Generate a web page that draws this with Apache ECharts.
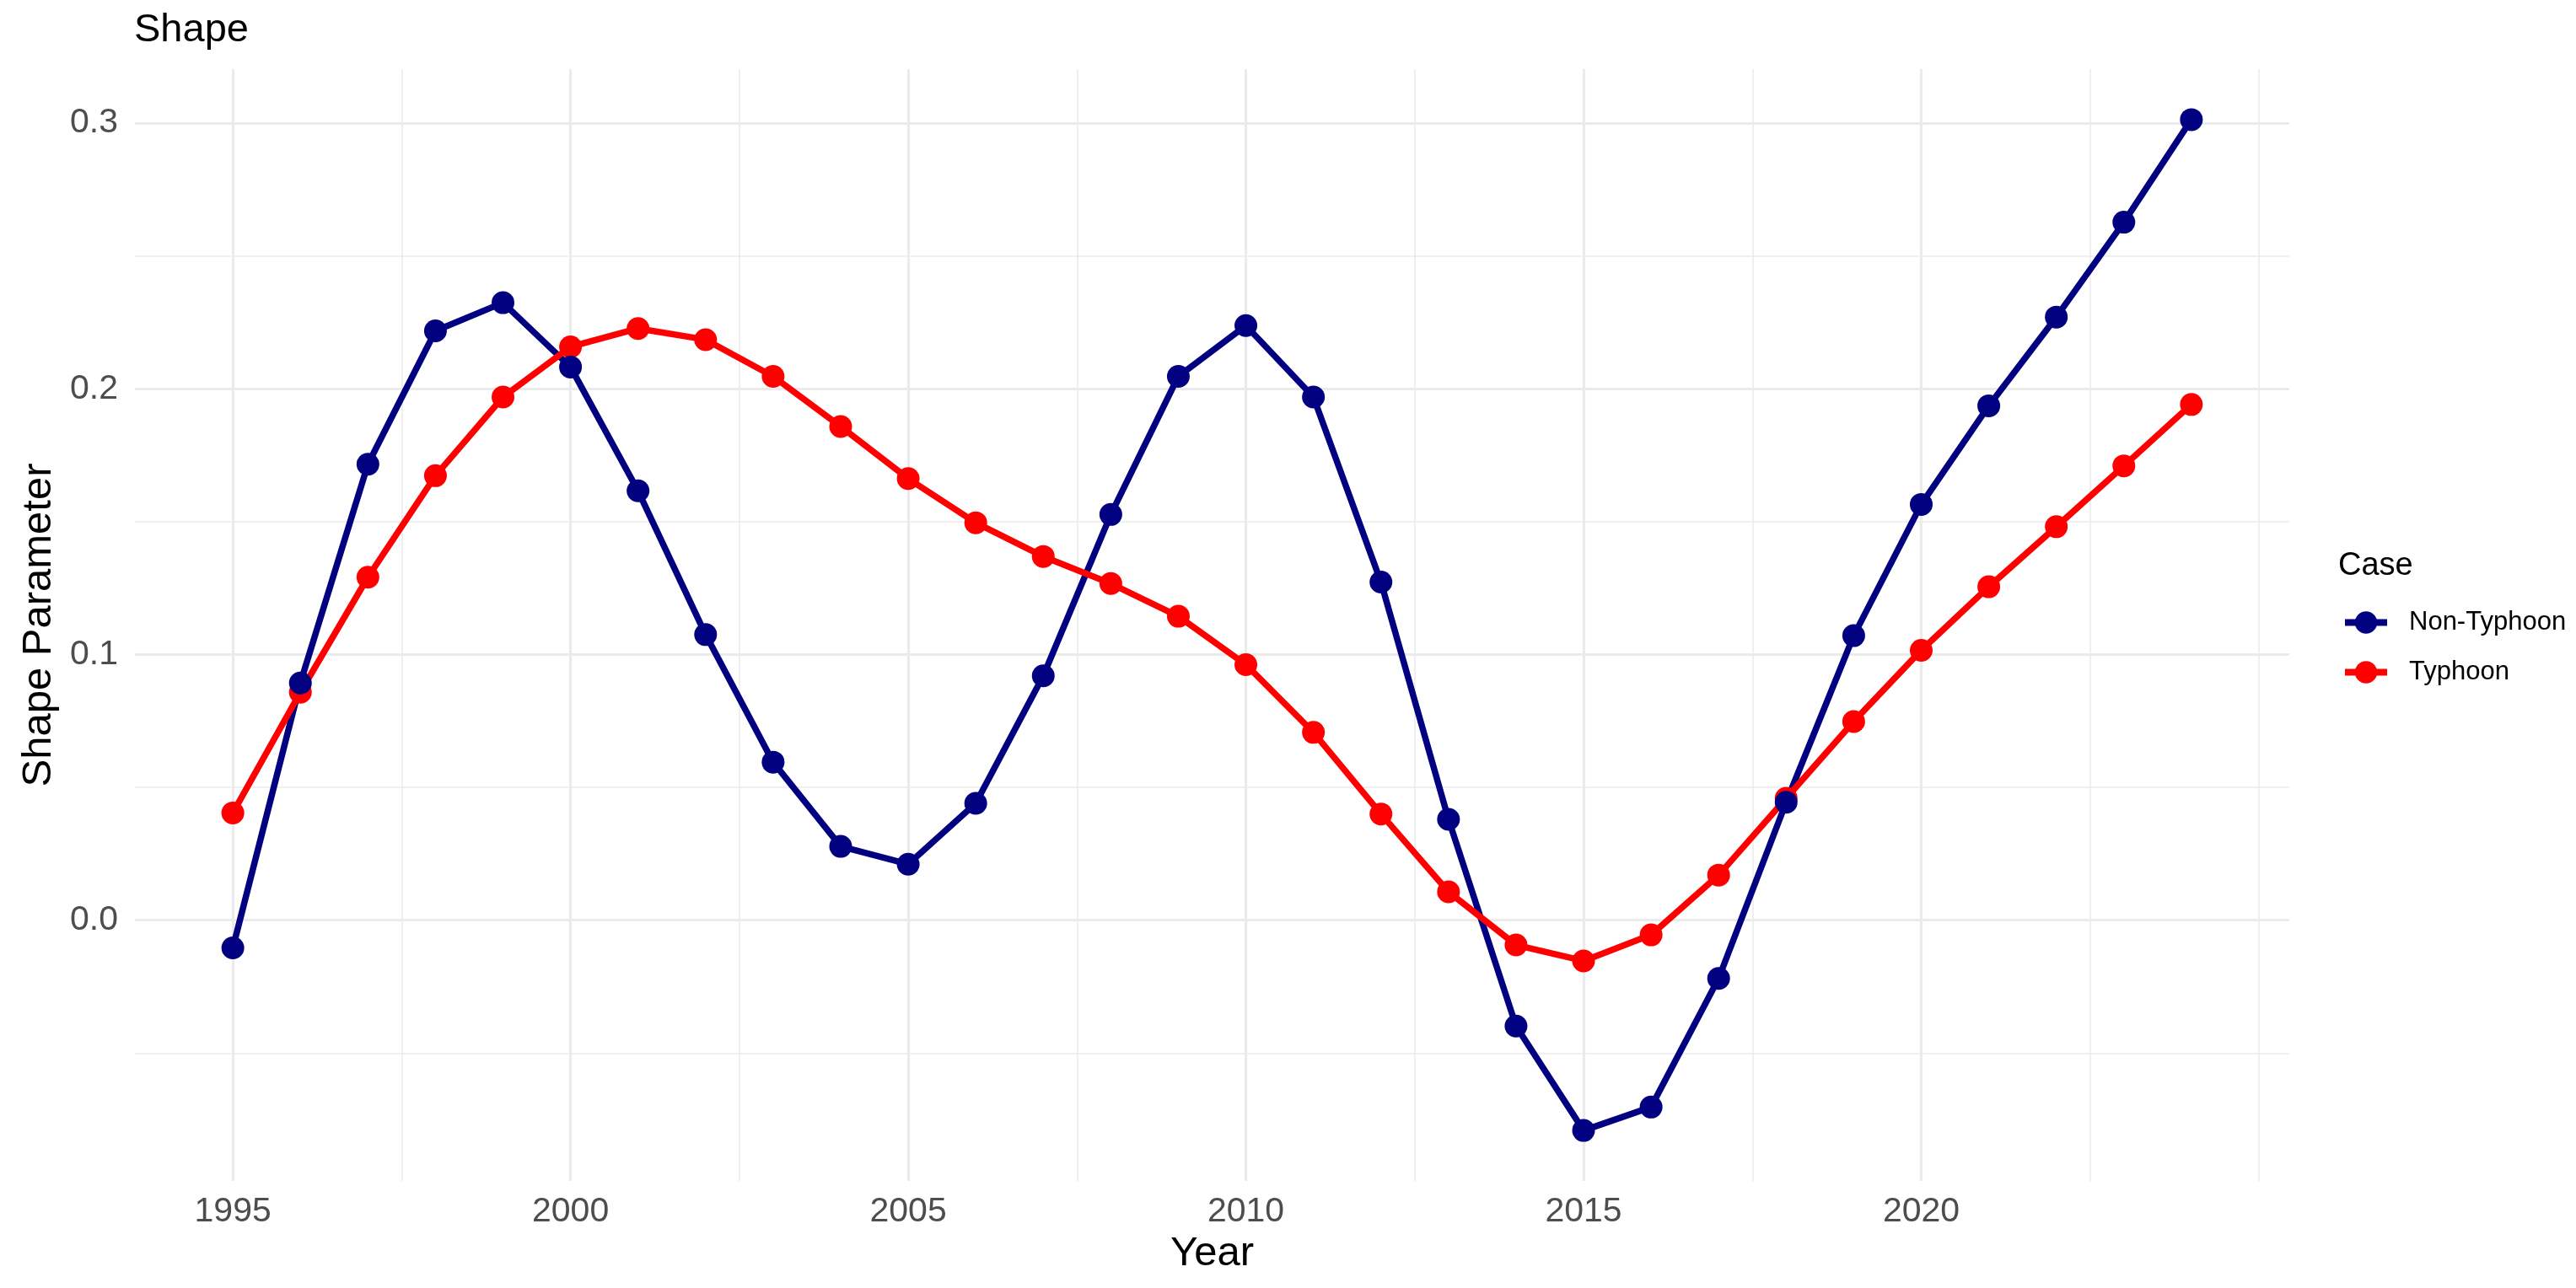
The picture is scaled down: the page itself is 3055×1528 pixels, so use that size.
<!DOCTYPE html>
<html>
<head>
<meta charset="utf-8">
<script src="https://cdn.jsdelivr.net/npm/echarts@6/dist/echarts.min.js"></script>
<style>
html,body{margin:0;padding:0;background:#fff;}
#chart{width:3055px;height:1528px;}
</style>
</head>
<body>
<div id="chart"></div>
<script>
const years = [1995,1996,1997,1998,1999,2000,2001,2002,2003,2004,2005,2006,2007,2008,2009,2010,2011,2012,2013,2014,2015,2016,2017,2018,2019,2020,2021,2022,2023,2024];
const nonTyphoon = [-0.0104,0.0893,0.1716,0.2218,0.2324,0.2082,0.1616,0.1075,0.0595,0.0278,0.0211,0.0440,0.0920,0.1527,0.2047,0.2238,0.1969,0.1273,0.0380,-0.0398,-0.0791,-0.0703,-0.0219,0.0444,0.1071,0.1565,0.1936,0.2270,0.2627,0.3013];
const typhoon = [0.0404,0.0858,0.1291,0.1673,0.1969,0.2158,0.2227,0.2185,0.2047,0.1858,0.1662,0.1496,0.1369,0.1267,0.1144,0.0962,0.0707,0.0400,0.0107,-0.0093,-0.0153,-0.0055,0.0170,0.0459,0.0748,0.1016,0.1255,0.1481,0.1710,0.1941];
const xMajor = [1995,2000,2005,2010,2015,2020];
const xMinor = [1997.5,2002.5,2007.5,2012.5,2017.5,2022.5,2025];
const yMajor = [0,0.1,0.2,0.3];
const yMinor = [-0.05,0.05,0.15,0.25];
const caseNames = ['Non-Typhoon','Typhoon'];
const caseColors = ['#000080','#FF0000'];

const FONT = "'Liberation Sans', Arial, sans-serif";
const xMin = 1993.55, xMax = 2025.45, yMin = -0.0981, yMax = 0.3203;
const pairs = (vals) => years.map((y,i)=>[y, vals[i]]);
const seriesVals = [nonTyphoon, typhoon];

const chart = echarts.init(document.getElementById('chart'), null, {renderer:'canvas'});
const gridLine = (w)=>({show:true, lineStyle:{color:'#EBEBEB', width:w}});
const option = {
  animation:false,
  backgroundColor:'#ffffff',
  title:[
    {text:'Shape', left:159, top:13, padding:0, textStyle:{fontFamily:FONT, fontSize:47, fontWeight:'normal', color:'#000'}},
    {text:'Case', left:2773, top:653, padding:0, textStyle:{fontFamily:FONT, fontSize:38, fontWeight:'normal', color:'#000'}}
  ],
  grid:{left:160, right:340, top:82, bottom:127, containLabel:false},
  legend:{
    orient:'vertical', left:2777, top:723, padding:0,
    itemWidth:50, itemHeight:33, itemGap:28,
    data:caseNames,
    lineStyle:{width:8},
    textStyle:{fontFamily:FONT, fontSize:31, color:'#000', padding:[0,0,0,21]}
  },
  xAxis:[
    {type:'value', min:xMin, max:xMax, position:'bottom',
     name:'Year', nameLocation:'middle', nameGap:62,
     nameTextStyle:{fontFamily:FONT, fontSize:49, color:'#000'},
     axisLine:{show:false}, axisTick:{show:false, customValues:xMajor},
     axisLabel:{customValues:xMajor, fontFamily:FONT, fontSize:41, color:'#4D4D4D', margin:16, formatter:(v)=>String(v)},
     splitLine:gridLine(3.2)},
    {type:'value', min:xMin, max:xMax, position:'top',
     axisLine:{show:false}, axisTick:{show:false, customValues:xMinor},
     axisLabel:{show:false, customValues:xMinor},
     splitLine:gridLine(1.6)}
  ],
  yAxis:[
    {type:'value', min:yMin, max:yMax, position:'left',
     name:'Shape Parameter', nameLocation:'middle', nameGap:89,
     nameTextStyle:{fontFamily:FONT, fontSize:49, color:'#000'},
     axisLine:{show:false}, axisTick:{show:false, customValues:yMajor},
     axisLabel:{customValues:yMajor, fontFamily:FONT, fontSize:41, color:'#4D4D4D', margin:20, formatter:(v)=>v.toFixed(1)},
     splitLine:gridLine(3.2)},
    {type:'value', min:yMin, max:yMax, position:'right',
     axisLine:{show:false}, axisTick:{show:false, customValues:yMinor},
     axisLabel:{show:false, customValues:yMinor},
     splitLine:gridLine(1.6)}
  ],
  series:[]
};
// lines first (under all points)
caseNames.forEach((nm,i)=>{
  option.series.push({
    name:nm, type:'line', xAxisIndex:0, yAxisIndex:0,
    data:pairs(seriesVals[i]), showSymbol:false, symbol:'circle', symbolSize:27,
    color:caseColors[i],
    lineStyle:{width:7.5, color:caseColors[i]}, itemStyle:{color:caseColors[i]},
    z:2, silent:true
  });
});
// points: Typhoon first, Non-Typhoon on top
[1,0].forEach((i)=>{
  option.series.push({
    name:caseNames[i], type:'scatter', xAxisIndex:0, yAxisIndex:0,
    data:pairs(seriesVals[i]), symbol:'circle', symbolSize:27,
    itemStyle:{color:caseColors[i], opacity:1},
    z:3, silent:true
  });
});
chart.setOption(option);
</script>
</body>
</html>
